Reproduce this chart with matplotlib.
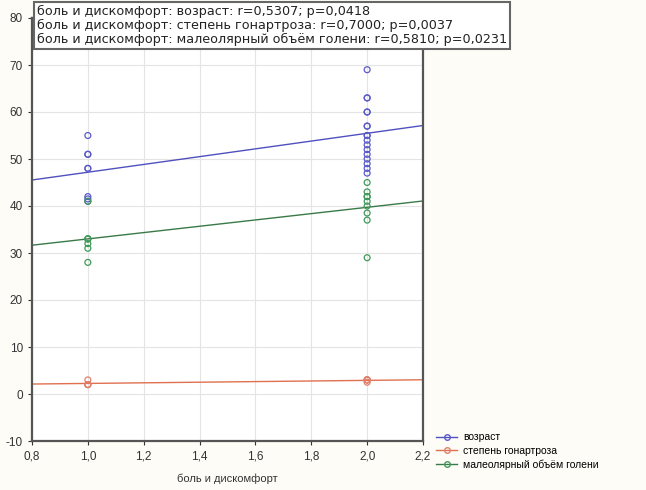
import numpy as np
import matplotlib
matplotlib.use("Agg")
import matplotlib.pyplot as plt
from matplotlib.lines import Line2D

plt.rcParams['font.family'] = ['Liberation Sans', 'DejaVu Sans']
plt.rcParams['axes.unicode_minus'] = False

x_label = "боль и дискомфорт"
series_names = ["возраст", "степень гонартроза", "малеолярный объём голени"]
stats_lines = [
    "боль и дискомфорт: возраст: r=0,5307; p=0,0418",
    "боль и дискомфорт: степень гонартроза: r=0,7000; p=0,0037",
    "боль и дискомфорт: малеолярный объём голени: r=0,5810; p=0,0231",
]

age_x = [1, 1, 1, 1, 1, 1, 1, 1,
         2, 2, 2, 2, 2, 2, 2, 2, 2, 2, 2, 2, 2, 2, 2, 2, 2]
age_y = [55, 51, 51, 48, 48, 42, 41.5, 41,
         69, 63, 63, 60, 60, 57, 57, 55, 55, 54, 53, 52, 51, 50, 49, 48, 47]
grade_x = [1, 1, 1, 1, 2, 2, 2, 2, 2]
grade_y = [2, 2, 3, 2, 3, 3, 3, 3, 2.5]
vol_x = [1, 1, 1, 1, 1, 1, 1, 2, 2, 2, 2, 2, 2, 2, 2, 2]
vol_y = [41, 33, 33, 33, 32, 31, 28, 45, 43, 42, 42, 41, 40, 38.5, 37, 29]

x_ticks = [0.8, 1.0, 1.2, 1.4, 1.6, 1.8, 2.0, 2.2]
y_ticks = [-10, 0, 10, 20, 30, 40, 50, 60, 70, 80]

colors = ["#5a5ac8", "#e0806a", "#3f9a5a"]
line_colors = ["#5050c0", "#e07050", "#3a7a48"]

fig = plt.figure(figsize=(6.46, 4.90), dpi=100, facecolor="#fdfcf6")
ax = fig.add_axes([32/646, 49/490, (423-32)/646, (441-18)/490])
ax.set_facecolor("white")

xs = np.array([0.8, 2.2])
data = [(age_x, age_y), (grade_x, grade_y), (vol_x, vol_y)]
for (dx, dy), c, lc in zip(data, colors, line_colors):
    ax.scatter(dx, dy, s=18, facecolors="none", edgecolors=c, linewidths=0.9, zorder=3)
    k, b = np.polyfit(dx, dy, 1)
    ax.plot(xs, k*xs + b, color=lc, lw=1.0, zorder=2)

ax.set_xlim(0.8, 2.2)
ax.set_ylim(-10, 80)
ax.set_xticks(x_ticks)
ax.set_xticklabels([f"{t:.1f}".replace(".", ",") for t in x_ticks])
ax.set_yticks(y_ticks)
ax.grid(True, color="#e4e4e4", lw=0.8)
ax.set_axisbelow(True)
for s in ax.spines.values():
    s.set_color("#555555")
    s.set_linewidth(1.6)
ax.tick_params(labelsize=8.5, colors="#333333", length=3)
ax.set_xlabel(x_label, fontsize=8, color="#333333", labelpad=8)

fig.text(37/646, 1 - 5/490, "\n".join(stats_lines), fontsize=9.2, color="#222222",
         family="DejaVu Sans", va="top", ha="left", linespacing=1.1,
         bbox=dict(boxstyle="square,pad=0.25", fc="white", ec="#666666", lw=1.5))

handles = [Line2D([0], [0], color=lc, marker="o", mfc="none", mec=c, ms=4, lw=1)
           for c, lc in zip(colors, line_colors)]
fig.legend(handles, series_names, loc="upper left", bbox_to_anchor=(432/646, 1 - 428/490),
           frameon=False, fontsize=7.5, handlelength=2.0, labelspacing=0.35,
           handletextpad=0.6, borderaxespad=0)

fig.savefig("out.png", dpi=100, facecolor=fig.get_facecolor())
